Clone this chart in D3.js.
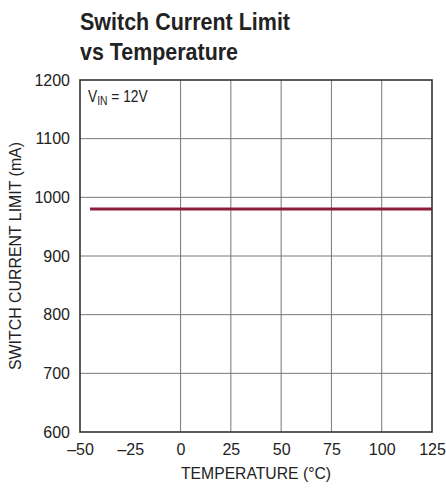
<!DOCTYPE html>
<html><head><meta charset="utf-8">
<script src="https://cdn.jsdelivr.net/npm/d3@7"></script>
<style>
body{margin:0;background:#fff;}
svg text{font-family:"Liberation Sans","Arial",sans-serif;fill:#222;}
</style></head>
<body><svg id="c" width="446" height="491"></svg>
<script>
const xTicks=[-50,-25,0,25,50,75,100,125];
const xGrid=[0,25,50,75,100];
const yTicks=[600,700,800,900,1000,1100,1200];
const temps=[-45,125];
const currentLimit=[980,980];

const svg=d3.select("#c");
const m={l:80,r:432,t:80,b:432};
const x=d3.scaleLinear().domain([-50,125]).range([m.l,m.r]);
const y=d3.scaleLinear().domain([600,1200]).range([m.b,m.t]);

// title
svg.append("text").attr("x",80).attr("y",30).attr("font-size",24).attr("font-weight","bold")
 .attr("textLength",210).attr("lengthAdjust","spacingAndGlyphs").text("Switch Current Limit");
svg.append("text").attr("x",80).attr("y",60).attr("font-size",24).attr("font-weight","bold")
 .attr("textLength",158).attr("lengthAdjust","spacingAndGlyphs").text("vs Temperature");

// grid
svg.append("g").selectAll("line").data(xGrid).join("line")
 .attr("x1",d=>x(d)).attr("x2",d=>x(d)).attr("y1",m.t).attr("y2",m.b)
 .attr("stroke","#777").attr("stroke-width",1);
svg.append("g").selectAll("line").data(yTicks.slice(1,-1)).join("line")
 .attr("x1",m.l).attr("x2",m.r).attr("y1",d=>y(d)).attr("y2",d=>y(d))
 .attr("stroke","#777").attr("stroke-width",1);

// axes labels
const xa=svg.append("g").attr("transform",`translate(0,${m.b})`)
 .call(d3.axisBottom(x).tickValues(xTicks).tickSize(0).tickPadding(12).tickFormat(d=>String(d).replace("-","\u2013")));
xa.select(".domain").remove();
xa.selectAll("text").attr("font-size",16).attr("fill","#222").style("font-family","Liberation Sans, sans-serif");
const ya=svg.append("g").attr("transform",`translate(${m.l},0)`)
 .call(d3.axisLeft(y).tickValues(yTicks).tickSize(0).tickPadding(10).tickFormat(d3.format("d")));
ya.select(".domain").remove();
ya.selectAll("text").attr("font-size",16).attr("fill","#222").style("font-family","Liberation Sans, sans-serif");

// line
const line=d3.line().x((d,i)=>x(temps[i])).y(d=>y(d));
svg.append("path").datum(currentLimit).attr("d",line).attr("fill","none")
 .attr("stroke","#8c1d3c").attr("stroke-width",3);

// frame
svg.append("rect").attr("x",m.l).attr("y",m.t).attr("width",m.r-m.l).attr("height",m.b-m.t)
 .attr("fill","none").attr("stroke","#333").attr("stroke-width",1.6);

// annotation
const t=svg.append("g").attr("transform","translate(88,102) scale(0.86,1)")
 .append("text").attr("x",0).attr("y",0).attr("font-size",16);
t.append("tspan").text("V");
t.append("tspan").attr("font-size",12).attr("dy",3).text("IN");
t.append("tspan").attr("dy",-3).text(" = 12V");

// axis titles
svg.append("text").attr("x",(m.l+m.r)/2).attr("y",479).attr("text-anchor","middle").attr("font-size",16)
 .attr("textLength",150).attr("lengthAdjust","spacingAndGlyphs").text("TEMPERATURE (°C)");
svg.append("text").attr("transform",`translate(21,${(m.t+m.b)/2}) rotate(-90)`).attr("text-anchor","middle").attr("font-size",16)
 .attr("textLength",228).attr("lengthAdjust","spacingAndGlyphs").text("SWITCH CURRENT LIMIT (mA)");
</script></body></html>
